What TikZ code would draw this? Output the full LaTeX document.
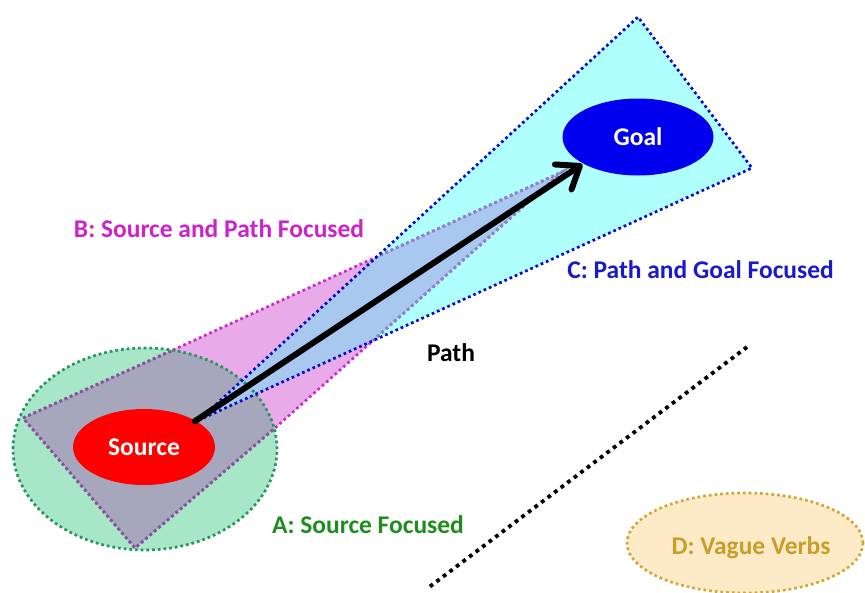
\documentclass[tikz,border=0pt]{standalone}
\usepackage{fontspec}
\setmainfont{Carlito}
\usetikzlibrary{shapes.geometric,arrows.meta}

\definecolor{greenfill}{RGB}{168,230,200}
\definecolor{greenline}{RGB}{34,150,92}
\definecolor{pinkfill}{RGB}{232,170,232}
\definecolor{pinkline}{RGB}{204,40,204}
\definecolor{grayfill}{RGB}{166,166,188}
\definecolor{purpline}{RGB}{124,90,150}
\definecolor{cyanfill}{RGB}{176,255,255}
\definecolor{overlapfill}{RGB}{168,200,240}
\definecolor{fadeline}{RGB}{136,136,200}
\definecolor{blueline}{RGB}{10,10,200}
\definecolor{srcred}{RGB}{255,0,0}
\definecolor{goalblue}{RGB}{0,0,238}
\definecolor{vaguefill}{RGB}{253,235,200}
\definecolor{vagueline}{RGB}{212,165,55}
\definecolor{vaguetext}{RGB}{200,158,40}
\definecolor{textB}{RGB}{204,34,204}
\definecolor{textC}{RGB}{26,26,204}
\definecolor{textA}{RGB}{30,140,30}

\tikzset{
  lbl/.style={font=\fontsize{25.5}{30}\selectfont\bfseries, inner sep=0pt},
  tag/.style={lbl, anchor=base},
  dots/.style={line width=2.7pt, line cap=butt, dash pattern=on 2.7pt off 3pt},
  bigdots/.style={line width=3.8pt, line cap=butt, dash pattern=on 3.8pt off 4.4pt},
  blob/.style={ellipse, lbl, inner sep=0pt},
}

% regions of the three focus types
\def\pinkpoly{(173,350) -- (562,172) -- (275,428) -- (135,548) -- (23,418) -- cycle}
\def\cyanpoly{(199,420) -- (638,17) -- (752,168) -- cycle}
\def\srcarea{(145,449) ellipse [x radius=132pt, y radius=101pt]}

\begin{document}
\begin{tikzpicture}[x=1pt,y=-1pt]
\useasboundingbox (0,0) rectangle (865,592);

% fills
\fill[greenfill] \srcarea;
\fill[pinkfill] \pinkpoly;
\begin{scope}
  \clip \srcarea;
  \fill[grayfill] \pinkpoly;
\end{scope}
\fill[cyanfill] \cyanpoly;
\begin{scope}
  \clip \cyanpoly;
  \fill[overlapfill] \pinkpoly;
\end{scope}

% dotted outlines
\draw[dots, pinkline] \pinkpoly;
\begin{scope}
  \clip \srcarea;
  \draw[dots, purpline] \pinkpoly;
\end{scope}
\begin{scope}
  \clip \cyanpoly;
  \draw[dots, fadeline] \pinkpoly;
\end{scope}
\draw[dots, greenline] \srcarea;
\draw[dots, blueline] \cyanpoly;

% separator
\coordinate (sepTop) at (747,347);
\coordinate (sepBot) at (428,588);
\draw[bigdots, black] (sepTop) -- (sepBot);

% nodes
\node[blob, fill=srcred, text=white, minimum width=142pt, minimum height=76pt] (source) at (144,447) {Source};
\node[blob, fill=goalblue, text=white, minimum width=151pt, minimum height=77pt] (goal) at (638,137) {Goal};
\node[blob, fill=vaguefill, draw=vagueline, dots, text=vaguetext, minimum width=236pt, minimum height=100pt] (vague) at (745,543) {};
\node[tag, text=vaguetext] (vagueLbl) at (751,554) {D: Vague Verbs};

% path arrow
\draw[line width=6pt, line cap=round, -{Straight Barb[length=20pt,width=30pt,line cap=round,line join=round]}, shorten >=1pt, shorten <=-1pt] (source.27) -- (goal.206);

% labels
\node[tag, text=textB] (labB) at (219,237) {B: Source and Path Focused};
\node[tag, text=textC] (labC) at (700.5,278) {C: Path and Goal Focused};
\node[tag, text=textA] (labA) at (368,533) {A: Source Focused};
\node[tag, text=black] (labPath) at (451,361) {Path};
\end{tikzpicture}
\end{document}
